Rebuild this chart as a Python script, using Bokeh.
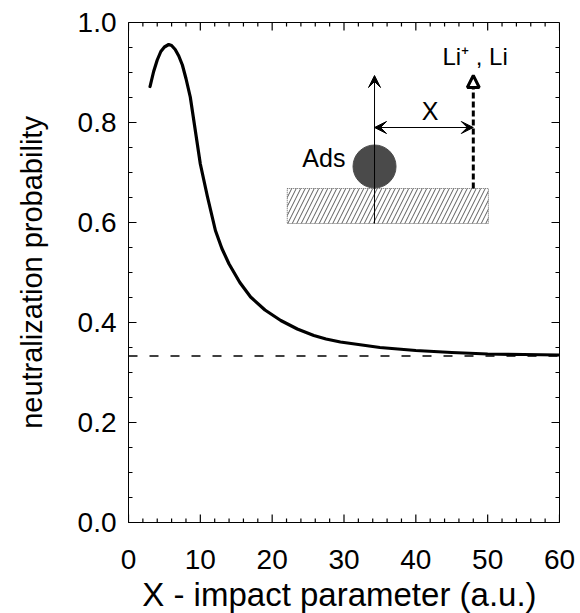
import numpy as np
from bokeh.plotting import figure
from bokeh.models import (Range1d, PrintfTickFormatter,
                          Span, Arrow, VeeHead, NormalHead, Label, ColumnDataSource)
from bokeh.embed import file_html
from bokeh.resources import INLINE

# ---- data ----
impact_x = [3.0, 3.5, 4.0, 4.5, 5.0, 5.6, 6.0, 6.5, 7.0, 7.5, 8.0, 8.6, 9.3, 10.0, 11.0,
            12.1, 13.0, 14.0, 15.5, 17.0, 19.0, 21.2, 23.5, 25.8, 27.5, 29.5, 35.0,
            40.0, 45.0, 50.0, 55.0, 60.0]
neutral_prob = [0.872, 0.902, 0.925, 0.942, 0.951, 0.956, 0.954, 0.946, 0.933, 0.915,
                0.888, 0.851, 0.784, 0.717, 0.651, 0.584, 0.548, 0.517, 0.480, 0.451,
                0.425, 0.404, 0.387, 0.374, 0.367, 0.361, 0.350, 0.344, 0.340, 0.337,
                0.336, 0.335]
asymptote = 0.333

x_major_ticks = [0, 10, 20, 30, 40, 50, 60]
y_major_ticks = [0.0, 0.2, 0.4, 0.6, 0.8, 1.0]

# inset sketch geometry (data units)
surface_x = [22.1, 50.1]
surface_y = [0.598, 0.668]
adsorbate_x = 34.25
adsorbate_y = 0.712
ion_x = 48.0
arrow_top = 0.894
x_arrow_y = 0.79

FONT = "Liberation Sans"
X0, X1, Y0, Y1 = 0, 60, 0.0, 1.0
FW, FH = 431, 500

p = figure(frame_width=FW, frame_height=FH, min_border_left=128, min_border_right=20,
           min_border_top=22, min_border_bottom=86,
           x_range=Range1d(X0, X1), y_range=Range1d(Y0, Y1),
           output_backend="svg", toolbar_location=None, tools="")
p.outline_line_color = "black"
p.outline_line_width = 1
p.grid.visible = False
p.background_fill_color = "white"
p.border_fill_color = "white"

p.xaxis.ticker = x_major_ticks
p.yaxis.ticker = y_major_ticks
p.yaxis.formatter = PrintfTickFormatter(format="%.1f")

for ax in (p.xaxis[0], p.yaxis[0]):
    ax.axis_line_color = "black"
    ax.major_tick_line_color = None
    ax.minor_tick_line_color = None
    ax.major_tick_in = 0
    ax.major_tick_out = 0
    ax.minor_tick_in = 0
    ax.minor_tick_out = 0
    ax.major_label_text_font = FONT
    ax.major_label_text_font_size = "28px"
    ax.major_label_text_color = "black"
    ax.axis_label_text_font = FONT
    ax.axis_label_text_font_style = "normal"
    ax.axis_label_text_color = "black"

p.xaxis.axis_label_text_font_size = "33px"
p.yaxis.axis_label_text_font_size = "29px"
p.xaxis.axis_label = "X - impact parameter  (a.u.)"
p.yaxis.axis_label = "neutralization probability"
p.xaxis.major_label_standoff = 27
p.yaxis.major_label_standoff = 12
p.xaxis.axis_label_standoff = 4
p.yaxis.axis_label_standoff = 27

# inward ticks on all four sides, drawn as short segments
dx = (X1 - X0) / FW   # data units per pixel
dy = (Y1 - Y0) / FH
x_minor = np.setdiff1d(np.arange(X0, X1 + 0.01, 2.0), x_major_ticks)
y_minor = np.setdiff1d(np.round(np.arange(Y0, Y1 + 0.001, 0.05), 3), y_major_ticks)
for xs, ln in ((np.array(x_major_ticks, float), 8), (x_minor, 4)):
    p.segment(x0=xs, y0=np.full(len(xs), Y0), x1=xs, y1=np.full(len(xs), Y0 + ln * dy),
              line_color="black", line_width=1.2)
    p.segment(x0=xs, y0=np.full(len(xs), Y1), x1=xs, y1=np.full(len(xs), Y1 - ln * dy),
              line_color="black", line_width=1.2)
for ys, ln in ((np.array(y_major_ticks, float), 8), (y_minor, 4)):
    p.segment(x0=np.full(len(ys), X0), y0=ys, x1=np.full(len(ys), X0 + ln * dx), y1=ys,
              line_color="black", line_width=1.2)
    p.segment(x0=np.full(len(ys), X1), y0=ys, x1=np.full(len(ys), X1 - ln * dx), y1=ys,
              line_color="black", line_width=1.2)

# asymptote
p.add_layout(Span(location=asymptote, dimension="width", line_color="black",
                  line_width=1.4, line_dash="9 12"))

# main curve
src = ColumnDataSource(dict(x=impact_x, y=neutral_prob))
p.line("x", "y", source=src, line_width=3.2, line_color="black", line_join="round", line_cap="round")

# inset: surface
p.quad(left=[surface_x[0]], right=[surface_x[1]], bottom=[surface_y[0]], top=[surface_y[1]],
       fill_color="white", hatch_pattern="/", hatch_color="#333333", hatch_weight=0.8,
       hatch_scale=9, line_color="#666666", line_width=1, line_dash="1 1")

# adsorbate
p.scatter(x=[adsorbate_x], y=[adsorbate_y], size=43, marker="circle",
          fill_color="#4a4a4a", line_color="#4a4a4a")

# solid vertical arrow
p.add_layout(Arrow(x_start=adsorbate_x, y_start=surface_y[0], x_end=adsorbate_x, y_end=arrow_top,
                   line_width=1, line_color="black",
                   end=VeeHead(size=12, fill_color="black", line_color="black", line_width=1)))
# double horizontal arrow
p.add_layout(Arrow(x_start=adsorbate_x, y_start=x_arrow_y, x_end=ion_x, y_end=x_arrow_y,
                   line_width=1.2, line_color="black",
                   start=VeeHead(size=12, fill_color="black", line_color="black", line_width=1),
                   end=VeeHead(size=12, fill_color="black", line_color="black", line_width=1)))
# dashed ion trajectory
p.add_layout(Arrow(x_start=ion_x, y_start=surface_y[1], x_end=ion_x, y_end=arrow_top,
                   line_width=3, line_color="black", line_dash="6 3",
                   end=NormalHead(size=12, fill_color="white", line_color="black", line_width=3)))

p.add_layout(Label(x=30.2, y=0.73, text="Ads", text_align="right", text_baseline="middle",
                   text_font=FONT, text_font_size="25px", text_color="black"))
p.add_layout(Label(x=42.0, y=0.824, text="X", text_align="center", text_baseline="middle",
                   text_font=FONT, text_font_size="25px", text_color="black"))
p.add_layout(Label(x=43.7, y=0.932, text="Li⁺ , Li", text_align="left", text_baseline="middle",
                   text_font=FONT, text_font_size="24px", text_color="black"))

open("out.html", "w").write(file_html(p, INLINE))
